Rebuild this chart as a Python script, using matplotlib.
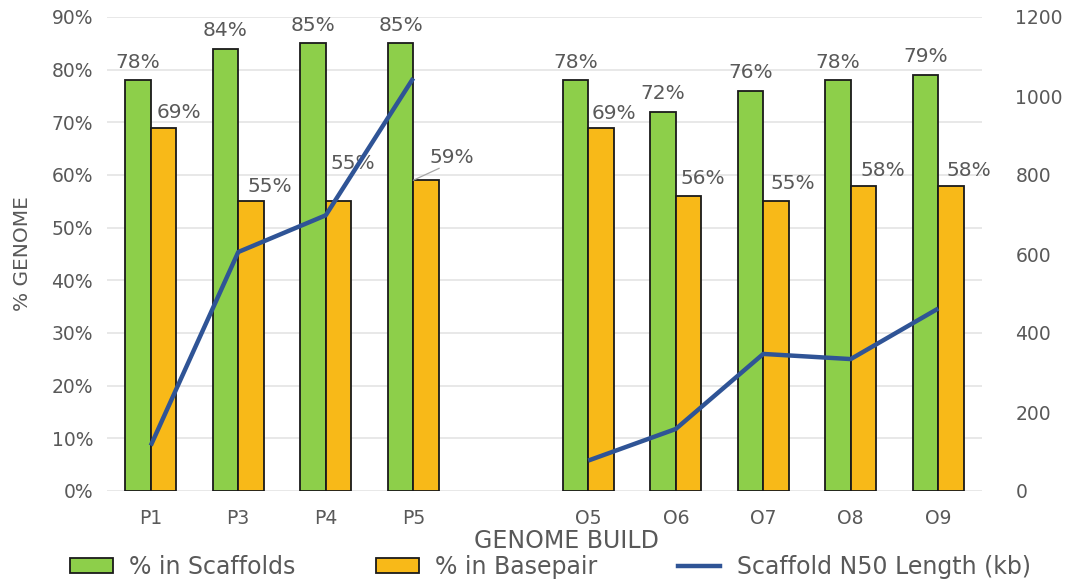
import numpy as np
import matplotlib
matplotlib.use("Agg")
import matplotlib.pyplot as plt
from matplotlib.lines import Line2D
from matplotlib.patches import Patch

# Genome builds (blank slot separates the P and O series)
builds = ["P1", "P3", "P4", "P5", "", "O5", "O6", "O7", "O8", "O9"]
pct_scaffolds = [78, 84, 85, 85, np.nan, 78, 72, 76, 78, 79]
pct_basepair = [69, 55, 55, 59, np.nan, 69, 56, 55, 58, 58]
n50_kb = [115, 605, 698, 1045, np.nan, 77, 157, 347, 334, 462]

GREEN = "#8DCF4A"
ORANGE = "#F8B918"
BLUE = "#2F5496"
GRID = "#E2E2E2"
TXT = "#595959"

plt.rcParams["font.family"] = ["DejaVu Sans"]

W, H = 1069, 584
fig = plt.figure(figsize=(W / 100, H / 100), dpi=100)
ax = fig.add_axes([107 / W, 1 - 491 / H, (982 - 107) / W, (491 - 17) / H])

x = np.arange(len(builds))
bw = 0.29

ax.bar(x - bw / 2, pct_scaffolds, bw, color=GREEN, edgecolor="#1a1a1a",
       linewidth=1.3, zorder=3)
ax.bar(x + bw / 2, pct_basepair, bw, color=ORANGE, edgecolor="#1a1a1a",
       linewidth=1.3, zorder=3)

ax.set_xlim(-0.5, len(builds) - 0.5)
ax.set_ylim(0, 90)
ax.set_yticks(np.arange(0, 91, 10))
ax.set_yticklabels([f"{v}%" for v in range(0, 91, 10)])
ax.set_xticks(x)
ax.set_xticklabels(builds)
ax.yaxis.grid(True, color=GRID, linewidth=1.1, zorder=0)
ax.set_axisbelow(True)
for s in ax.spines.values():
    s.set_visible(False)
ax.tick_params(axis="both", length=0, colors=TXT, labelsize=13.5)
ax.tick_params(axis="y", pad=10)
ax.tick_params(axis="x", pad=13)
ax.set_ylabel("% GENOME", color=TXT, fontsize=14.5, labelpad=14)
ax.set_xlabel("GENOME BUILD", color=TXT, fontsize=17, va="center")
ax.xaxis.set_label_coords(0.525, -(541 - 491) / 474)

# value labels: scaffolds centred above bar, basepair nudged to the right
bp_offsets = [(15, 15), (19, 15), (14, 38), (26, 23), None,
              (13, 14), (14, 18), (17, 18), (19, 15.5), (18, 15.5)]
for i in range(len(builds)):
    if np.isnan(pct_scaffolds[i]):
        continue
    ax.annotate(f"{pct_scaffolds[i]:.0f}%", (x[i] - bw / 2, pct_scaffolds[i]),
                xytext=(0, 18), textcoords="offset pixels", ha="center",
                va="center", color=TXT, fontsize=14.5, zorder=5)
    dx, dy = bp_offsets[i]
    ax.annotate(f"{pct_basepair[i]:.0f}%", (x[i] + bw / 2, pct_basepair[i]),
                xytext=(dx, dy), textcoords="offset pixels", ha="center",
                va="center", color=TXT, fontsize=14.5, zorder=5)

# leader line for the P5 basepair label
i5 = builds.index("P5")
ax.annotate("", xy=(x[i5], pct_basepair[i5]), xycoords="data",
            xytext=(26, 12), textcoords="offset pixels",
            arrowprops=dict(arrowstyle="-", color="#A6A6A6", lw=0.9,
                            shrinkA=0, shrinkB=0), zorder=4)

ax2 = ax.twinx()
ax2.plot(x, n50_kb, color=BLUE, linewidth=3.2, solid_capstyle="butt", zorder=4)
ax2.set_ylim(0, 1200)
ax2.set_yticks(np.arange(0, 1201, 200))
for s in ax2.spines.values():
    s.set_visible(False)
ax2.tick_params(axis="y", length=0, colors=TXT, labelsize=13.5, pad=24)

handles = [
    Patch(facecolor=GREEN, edgecolor="#1a1a1a", linewidth=1.3),
    Patch(facecolor=ORANGE, edgecolor="#1a1a1a", linewidth=1.3),
    Line2D([0], [0], color=BLUE, linewidth=3.2),
]
labels = ["% in Scaffolds", "% in Basepair", "Scaffold N50 Length (kb)"]
fig.legend(handles, labels, loc="lower center", bbox_to_anchor=(0.515, -0.028),
           ncol=3, frameon=False, fontsize=17, labelcolor=TXT,
           handlelength=1.8, handleheight=0.6, handletextpad=0.7,
           columnspacing=3.4)

fig.savefig("out.png", dpi=100, facecolor="white")
